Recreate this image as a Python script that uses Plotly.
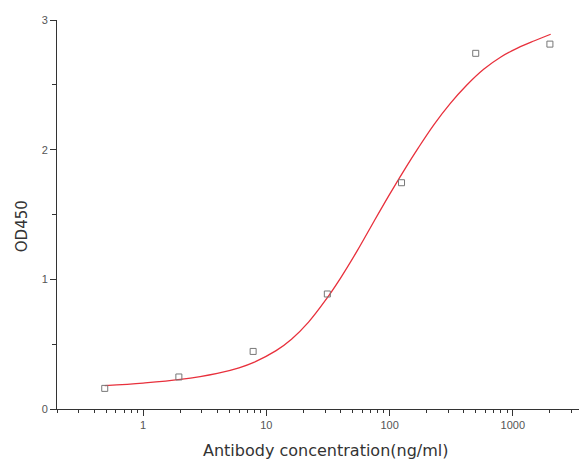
import plotly.graph_objects as go
import numpy as np

# measured points
conc = [0.488, 1.95, 7.81, 31.25, 125, 500, 2000]
od450 = [0.159, 0.247, 0.444, 0.887, 1.745, 2.743, 2.814]

# fitted curve
curve_x = [0.488, 1.0, 2.0, 4.0, 6.0, 8.0, 12, 16, 22, 30, 40, 55, 75, 100, 130, 170, 230, 310, 420, 580, 800, 1100, 1500, 2030]
curve_y = [0.180, 0.200, 0.228, 0.275, 0.318, 0.362, 0.450, 0.538, 0.670, 0.835, 1.010, 1.225, 1.450, 1.655, 1.835, 2.010, 2.195, 2.355, 2.495, 2.620, 2.715, 2.785, 2.840, 2.890]

major_x = [1, 10, 100, 1000]
major_x_labels = ["1", "10", "100", "1000"]
minor_x = [m * 10 ** e for e in range(-1, 4) for m in range(2, 10) if 0.2 <= m * 10 ** e <= 4000]

fig = go.Figure()
fig.add_trace(go.Scatter(x=curve_x, y=curve_y, mode="lines",
                         line=dict(color="#e8303c", width=1.3, shape="spline", smoothing=1.0),
                         hoverinfo="skip", showlegend=False))
fig.add_trace(go.Scatter(x=conc, y=od450, mode="markers",
                         marker=dict(symbol="square-open", size=6, color="#777777", line=dict(width=1)),
                         showlegend=False))

fig.update_layout(
    width=579, height=453,
    margin=dict(l=49, r=0, t=12, b=52),
    paper_bgcolor="white", plot_bgcolor="white",
    font=dict(family="Liberation Sans, Arial, sans-serif", color="#444444"),
    xaxis=dict(type="log", range=[np.log10(0.2), np.log10(4000)], automargin=False,
               showgrid=False, zeroline=False, showline=True, linecolor="#333333", linewidth=1,
               tickmode="array", tickvals=major_x, ticktext=major_x_labels,
               ticks="outside", ticklen=6, tickcolor="#333333", tickwidth=1,
               tickfont=dict(size=11, color="#555555"),
               minor=dict(tickvals=minor_x, ticks="outside", ticklen=3, tickcolor="#333333", tickwidth=1)),
    yaxis=dict(range=[0, 3], automargin=False, showgrid=False, zeroline=False, showline=True,
               linecolor="#333333", linewidth=1,
               tickmode="array", tickvals=[0, 1, 2, 3],
               ticks="outside", ticklen=6, tickcolor="#333333", tickwidth=1,
               tickfont=dict(size=11, color="#555555"),
               minor=dict(tickvals=[0.5, 1.5, 2.5], ticks="outside", ticklen=4, tickcolor="#333333", tickwidth=1)),
    annotations=[
        dict(text="Antibody concentration(ng/ml)", xref="paper", yref="paper", x=0.506, y=-0.078,
             xanchor="center", yanchor="top", showarrow=False,
             font=dict(size=16, color="#333333", family="DejaVu Sans, sans-serif")),
        dict(text="OD450", xref="paper", yref="paper", x=-0.066, y=0.47, textangle=-90,
             xanchor="center", yanchor="middle", showarrow=False,
             font=dict(size=15, color="#333333", family="DejaVu Sans, sans-serif")),
    ],
)

fig.write_html("out.html")
